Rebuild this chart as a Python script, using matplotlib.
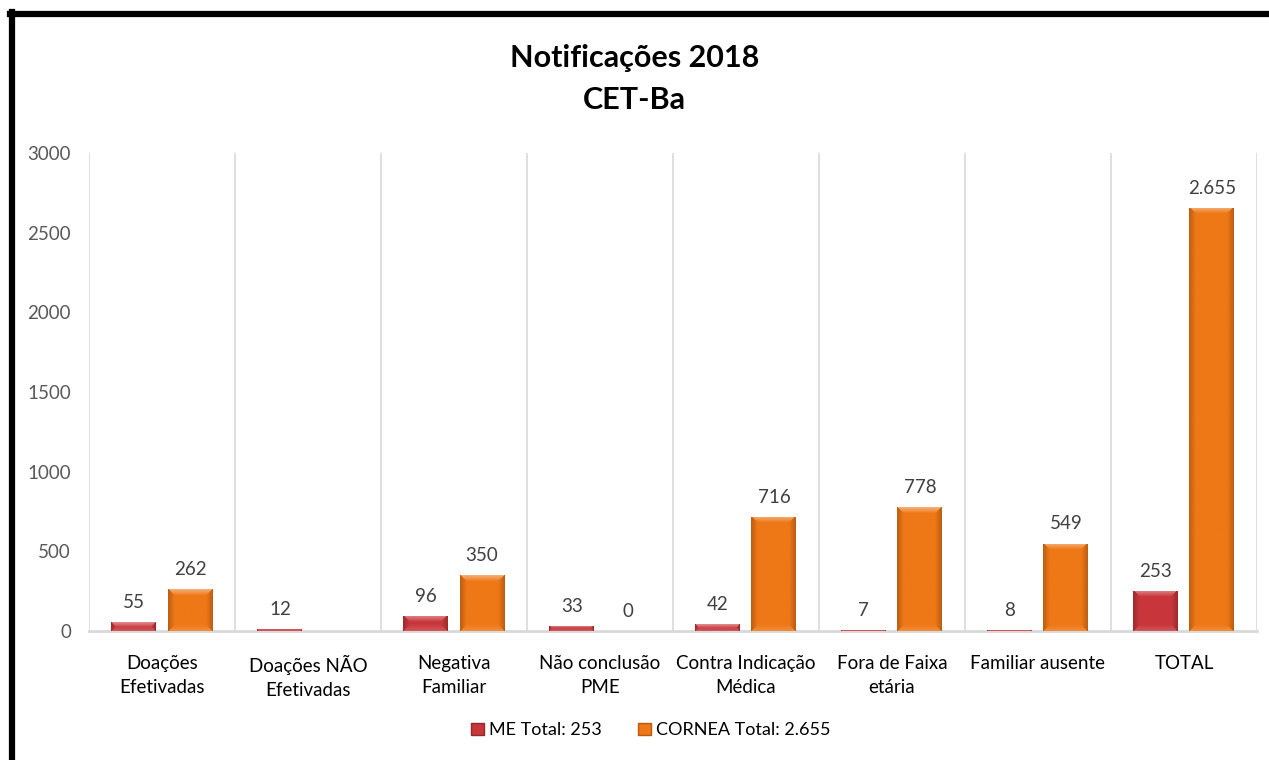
import numpy as np
import matplotlib
matplotlib.use("Agg")
import matplotlib.pyplot as plt
from matplotlib.patches import Patch
from matplotlib.lines import Line2D
from matplotlib.colors import to_rgb

plt.rcParams['font.family'] = ['Lato', 'DejaVu Sans']

# data
categories = ["Doações\nEfetivadas", "Doações NÃO\nEfetivadas", "Negativa\nFamiliar",
              "Não conclusão\nPME", "Contra Indicação\nMédica", "Fora de Faixa\netária",
              "Familiar ausente", "TOTAL"]
me_values = [55, 12, 96, 33, 42, 7, 8, 253]
cornea_values = [262, None, 350, 0, 716, 778, 549, 2655]
legend_labels = ["ME Total: 253", "CORNEA Total: 2.655"]

me_color = "#C8363B"
cornea_color = "#EE7716"


def fmt(v):
    return f"{v:,.0f}".replace(",", ".")


def bevel_image(color, w_px, h_px, b=6):
    # soft bevel: lighter top edge, darker sides, gentle ramp
    base = np.array(to_rgb(color))
    nx, ny = max(int(w_px), 2), max(int(h_px), 1)
    jj, ii = np.meshgrid(np.arange(nx), np.arange(ny))
    dl, dr, dt, db = jj, nx - 1 - jj, ii, ny - 1 - ii
    dside = np.minimum(dl, dr)
    dvert = np.minimum(dt, db)
    d = np.minimum(dside, dvert)
    t = np.clip(1 - d / b, 0, 1)
    img = np.tile(base, (ny, nx, 1)).astype(float)
    side = dside <= dvert
    top = (~side) & (dt < db)
    bot = (~side) & (dt >= db)
    dark = base * 0.80
    light = base + (1 - base) * 0.40
    lbot = base + (1 - base) * 0.15
    for m, c in ((side, dark), (top, light), (bot, lbot)):
        tt = t[m][:, None]
        img[m] = base * (1 - tt) + c * tt
    return np.clip(img, 0, 1)


fig = plt.figure(figsize=(12.69, 7.6), dpi=100)
ax = fig.add_axes([0.0701, 0.1697, 0.9204, 0.629])

x = np.arange(len(categories))
bw = 0.308
off = 0.192
cv = np.array([np.nan if v is None else v for v in cornea_values], dtype=float)
b1 = ax.bar(x - off, me_values, bw, color=me_color, zorder=2)
b2 = ax.bar(x + off, cv, bw, color=cornea_color, zorder=2)

# bevel look
px_per_unit = 478 / 3000
for bars, col in ((b1, me_color), (b2, cornea_color)):
    for p in bars:
        h = p.get_height()
        if not np.isfinite(h) or h <= 0:
            continue
        x0, w = p.get_x(), p.get_width()
        hp = h * px_per_unit
        img = bevel_image(col, w * 146, hp, b=max(1.0, min(6.0, hp / 2)))
        im = ax.imshow(img, extent=(x0, x0 + w, 0, h), aspect='auto', zorder=3,
                       interpolation='bilinear')
        im.set_clip_path(p)

ax.set_xlim(-0.5, len(categories) - 0.5)
ax.set_ylim(0, 3000)

# labels
for xi, v in zip(x - off, me_values):
    ax.annotate(fmt(v), (xi, v), xytext=(0, 8), textcoords='offset points',
                ha='center', va='bottom', fontsize=13.5, color='#404040')
for xi, v in zip(x + off, cornea_values):
    if v is None:
        continue
    ax.annotate(fmt(v), (xi, v), xytext=(0, 8), textcoords='offset points',
                ha='center', va='bottom', fontsize=13.5, color='#404040')

# category separators
for xb in np.arange(-0.5, len(categories), 1.0):
    ax.axvline(xb, color='#D9D9D9', lw=1.2, zorder=1)

for s in ['top', 'right', 'left']:
    ax.spines[s].set_visible(False)
ax.spines['bottom'].set_color('#D9D9D9')
ax.spines['bottom'].set_linewidth(2)

ax.set_xticks(x)
ax.set_xticklabels(categories, fontsize=13.5, color='black', linespacing=1.55)
ax.set_yticks(np.arange(0, 3001, 500))
ax.tick_params(axis='y', length=0, pad=13, labelsize=13.5, labelcolor='#595959')
ax.tick_params(axis='x', length=0, pad=17)

fig.text(0.5, 0.924, "Notificações 2018", ha='center', va='center',
         fontsize=22, fontweight='bold', color='black')
fig.text(0.5, 0.868, "CET-Ba", ha='center', va='center',
         fontsize=22, fontweight='bold', color='black')

handles = [Patch(facecolor=me_color, edgecolor='#8E2A2A'),
           Patch(facecolor=cornea_color, edgecolor='#B85A10')]
fig.legend(handles, legend_labels, loc='center', bbox_to_anchor=(0.513, 0.039),
           ncol=2, frameon=False, fontsize=13, handlelength=0.7, handleheight=0.7,
           handletextpad=0.3, columnspacing=2.0)

# black frame (top and left, cut on the right and bottom)
fig.add_artist(Line2D([10 / 1269, 1.0], [1 - 14 / 760, 1 - 14 / 760],
                      transform=fig.transFigure, color='black', lw=4.5))
fig.add_artist(Line2D([12 / 1269, 12 / 1269], [0, 1 - 12 / 760],
                      transform=fig.transFigure, color='black', lw=4.5))

fig.savefig("out.png", dpi=100, facecolor='white')
